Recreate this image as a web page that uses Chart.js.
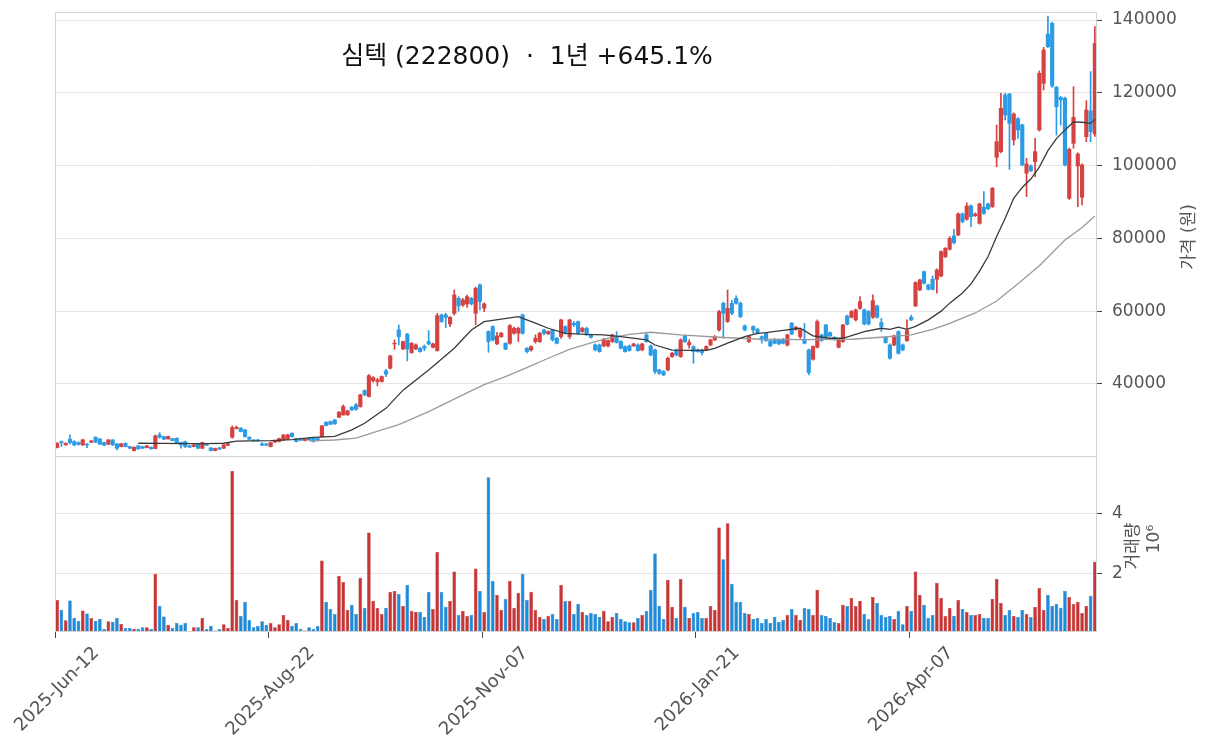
<!DOCTYPE html>
<html>
<head>
<meta charset="utf-8">
<script src="https://cdn.jsdelivr.net/npm/chart.js@4.4.1/dist/chart.umd.min.js"></script>
<style>
  html, body { margin: 0; padding: 0; background: #fff; }
  #wrap { width: 1212px; height: 750px; }
</style>
</head>
<body>
<div id="wrap"><canvas id="stockChart"></canvas></div>
<script>
const titleText = '심텍 (222800)  ·  1년 +645.1%';

const tickIdx = [0, 50, 100, 150, 200];
const tickLabels = ['2025-Jun-12', '2025-Aug-22', '2025-Nov-07', '2026-Jan-21', '2026-Apr-07'];
const priceTicks = [40000, 60000, 80000, 100000, 120000, 140000];
const volTicks = [2, 4];

const open = [
  22520, 24170, 23250, 24810, 24170, 23890, 23250, 23440, 23990, 25360,
  24900, 23890, 23440, 24630, 23530, 22790, 23710, 22790, 21700, 22980,
  22790, 22520, 22610, 22250, 26000, 25540, 24900, 24990, 25080, 23890,
  24170, 22980, 22790, 23440, 22340, 23530, 22430, 21700, 22430, 22340,
  23160, 25360, 27740, 27830, 27370, 25360, 24630, 24630, 23530, 23530,
  22790, 23990, 24170, 24630, 24900, 26460, 24990, 24990, 24440, 25080,
  25080, 25080, 25540, 29480, 29660, 30120, 30850, 31490, 31490, 33600,
  34240, 33780, 38180, 36530, 40920, 40650, 40650, 43580, 44310, 50990,
  54840, 49620, 53700, 48620, 49620, 49810, 50310, 51640, 50080, 49170,
  58960, 58960, 56490, 59420, 63540, 61710, 61990, 63540, 59420, 67200,
  60790, 54380, 55760, 51000, 53010, 51180, 51180, 53930, 53930, 58960,
  49810, 49350, 51640, 51640, 54840, 53750, 54840, 52550, 53010, 55760,
  53010, 56670, 57130, 54380, 55300, 53470, 50720, 50720, 50450, 50450,
  51640, 53010, 51640, 50270, 50450, 50450, 50720, 49350, 53470, 50450,
  49350, 43860, 43400, 43850, 47520, 49350, 47520, 53190, 50720, 50270,
  49350, 49350, 49350, 50720, 52100, 54840, 62170, 57130, 62170, 63540,
  62170, 55940, 51640, 55760, 55030, 53010, 53930, 51820, 52280, 52100,
  52280, 50720, 56670, 55030, 53010, 52280, 49350, 46780, 50080, 53470,
  56220, 54110, 52830, 50080, 51640, 58690, 58320, 57590, 60790, 60340,
  59880, 58320, 61440, 56860, 52830, 50720, 50720, 54380, 50720, 51910,
  58320, 61440, 65830, 70870, 67200, 68760, 68760, 69680, 74990, 77000,
  80660, 80940, 86710, 85240, 88900, 86250, 84140, 88540, 89450, 88720,
  102270, 103830, 119400, 119670, 107040, 112900, 111160, 97880, 99890, 101080,
  109780, 122600, 136150, 139080, 121500, 118760, 118480, 91010, 106120, 99890,
  91280, 107950, 115000, 108680
];

const high = [
  23900, 24350, 23800, 26000, 24400, 24100, 24800, 23710, 24500, 25500,
  25000, 24000, 24700, 24700, 23600, 23700, 23800, 22900, 22700, 23100,
  22900, 23100, 22700, 26000, 26640, 25700, 25700, 25100, 25200, 24000,
  24300, 23100, 23350, 23500, 24000, 23600, 22500, 22350, 22600, 23350,
  23650, 28470, 28400, 28000, 27500, 25500, 24700, 24750, 23900, 23600,
  24000, 24550, 25100, 26100, 26200, 26600, 25100, 25100, 24950, 25200,
  25200, 25200, 28600, 29600, 29800, 30250, 32400, 34240, 32800, 33800,
  34700, 37200, 38400, 42600, 42000, 41550, 42200, 44040, 47900, 52100,
  56220, 51800, 53900, 51400, 51000, 50000, 50720, 54660, 51200, 59420,
  59200, 59420, 58500, 65830, 64000, 63500, 64400, 63800, 66600, 67500,
  62300, 54600, 56000, 54200, 54200, 51300, 56300, 55600, 55600, 59200,
  50000, 50500, 53500, 54200, 55000, 54600, 55000, 52800, 57800, 56000,
  57800, 57200, 57300, 55600, 55600, 53700, 51000, 51000, 52500, 52100,
  53700, 54400, 51900, 50500, 50700, 51200, 51000, 51200, 53900, 50700,
  49600, 44000, 43700, 47400, 48700, 49600, 52400, 53400, 52100, 50500,
  49600, 49600, 50500, 52300, 53300, 60200, 62500, 65830, 63000, 64180,
  62500, 56200, 53300, 56000, 55300, 53200, 54100, 52000, 52500, 52300,
  52500, 53700, 56900, 55800, 55000, 56670, 49600, 50500, 57590, 53700,
  56400, 54300, 53000, 52300, 56400, 58900, 60200, 60600, 64000, 60600,
  60200, 64460, 61700, 58000, 53000, 51000, 53400, 54600, 51000, 57590,
  58900, 68100, 68800, 71000, 67400, 69680, 71600, 76600, 77500, 80500,
  82490, 87000, 87000, 89800, 89200, 87000, 89700, 92840, 89700, 94000,
  111160, 119850, 119850, 119850, 114500, 113200, 111400, 102000, 100200, 107490,
  126000, 132500, 141100, 139400, 121800, 119000, 118800, 104800, 121690, 103500,
  100500, 117840, 125810, 138170
];

const low = [
  22400, 22790, 23150, 23530, 23000, 23200, 23100, 22520, 23900, 23900,
  23300, 23100, 23300, 23100, 21880, 22700, 22700, 22200, 21600, 22050,
  22250, 22400, 22050, 22150, 25080, 24700, 24800, 24350, 23600, 22340,
  22500, 22500, 22700, 22200, 22200, 23050, 21600, 21600, 21950, 22250,
  23050, 25080, 27600, 26800, 25400, 24700, 24250, 24250, 23050, 23050,
  22700, 23900, 24050, 24500, 24800, 25400, 24050, 24400, 24350, 24500,
  24050, 24350, 25400, 28450, 28800, 28900, 30700, 31400, 31400, 32700,
  32700, 33600, 36800, 36400, 40500, 39460, 40500, 42020, 44100, 49530,
  50720, 49400, 46330, 48400, 49400, 48700, 49170, 50720, 49900, 49000,
  56900, 55480, 55760, 58900, 60000, 61300, 61000, 61700, 56220, 60340,
  59880, 48700, 51800, 50800, 52800, 49400, 50900, 53700, 51640, 53700,
  48500, 49000, 51200, 51400, 53500, 53600, 51800, 51000, 52500, 53700,
  52400, 55800, 53700, 54200, 53300, 52600, 49100, 48700, 50200, 50200,
  51400, 51200, 49600, 48700, 49000, 50300, 49000, 49100, 51400, 47700,
  42800, 42600, 42300, 43600, 47300, 47700, 47300, 51400, 49800, 45690,
  48700, 47970, 49100, 50500, 51900, 54500, 52550, 56900, 59000, 61900,
  58200, 54600, 51400, 53900, 53700, 51200, 51700, 50200, 51000, 50800,
  51000, 50400, 53500, 54800, 52500, 51000, 42480, 46500, 49900, 51700,
  52300, 53000, 52000, 49900, 51400, 56200, 58100, 57300, 60500, 56200,
  56200, 58000, 58100, 54400, 51200, 46800, 50500, 48200, 49100, 51700,
  57400, 61200, 65600, 67400, 65800, 65800, 64920, 69400, 74700, 76800,
  78500, 80700, 84300, 85000, 83230, 86000, 83900, 86600, 87900, 88500,
  99710, 103500, 112530, 98980, 105660, 107490, 99900, 91470, 98300, 96960,
  109500, 120770, 132400, 121500, 108410, 111160, 99900, 90700, 104750, 88720,
  89180, 106580, 106580, 108000
];

const close = [
  23710, 23890, 23710, 23890, 23250, 23340, 24630, 23250, 24350, 23990,
  23440, 23160, 24630, 23250, 22340, 23530, 22790, 22340, 22610, 22150,
  22340, 22980, 22150, 25720, 25360, 24810, 25540, 24440, 23710, 23250,
  22790, 22610, 23250, 22340, 23890, 23160, 21700, 22250, 22060, 23250,
  23530, 28010, 28100, 26920, 25540, 24810, 24350, 24350, 23160, 23160,
  23890, 24440, 24990, 26000, 26000, 25540, 24170, 24530, 24810, 24630,
  24170, 24440, 28470, 28560, 28930, 29020, 32230, 33780, 32590, 32870,
  33050, 36990, 36990, 42300, 41750, 41100, 42020, 42660, 47700, 51180,
  53010, 51640, 49600, 51180, 50720, 48890, 49810, 51000, 51000, 58780,
  57130, 58320, 58320, 64460, 61440, 63080, 64000, 61990, 66290, 62630,
  61990, 51640, 52100, 53190, 53930, 49530, 56040, 55300, 55300, 53930,
  48890, 50270, 52550, 53930, 53930, 54390, 52100, 51180, 57590, 53930,
  57590, 56210, 53930, 55300, 53470, 52830, 49350, 48890, 52280, 51910,
  53470, 51370, 49810, 48890, 49170, 51000, 49170, 51000, 51640, 47970,
  43400, 42940, 42480, 47060, 48430, 47970, 52100, 51640, 51370, 48890,
  48890, 48620, 50270, 52100, 53010, 59880, 59420, 60790, 59420, 62170,
  58500, 54840, 53010, 54840, 53930, 52100, 51910, 50450, 51180, 51000,
  51180, 53470, 53740, 55580, 54840, 51180, 43120, 50260, 57130, 51910,
  52550, 53190, 52280, 52100, 56220, 56400, 59880, 60340, 62630, 56490,
  56490, 62900, 58320, 55760, 51360, 47060, 53190, 48430, 49350, 54660,
  57590, 67840, 68580, 67660, 66010, 66010, 71330, 76360, 77280, 80000,
  78800, 86710, 84600, 88900, 85970, 86710, 89450, 86890, 88170, 93760,
  106580, 115730, 113900, 111610, 114180, 109780, 100170, 100440, 98610, 103830,
  125350, 131760, 132670, 121870, 116190, 118030, 100170, 104470, 113260, 103190,
  100170, 115280, 109320, 133590
];

// volume, millions of shares
const volumeM = [
  1.14, 0.81, 0.46, 1.11, 0.53, 0.44, 0.78, 0.68, 0.53, 0.44,
  0.5, 0.17, 0.43, 0.41, 0.54, 0.34, 0.2, 0.2, 0.17, 0.17,
  0.23, 0.23, 0.17, 2.0, 0.94, 0.58, 0.31, 0.2, 0.37, 0.31,
  0.37, 0.09, 0.23, 0.23, 0.53, 0.17, 0.28, 0.12, 0.17, 0.33,
  0.2, 5.4, 1.13, 0.61, 1.07, 0.47, 0.23, 0.28, 0.43, 0.31,
  0.37, 0.23, 0.33, 0.63, 0.47, 0.28, 0.37, 0.17, 0.12, 0.23,
  0.17, 0.28, 2.44, 1.07, 0.83, 0.67, 1.93, 1.73, 0.8, 0.97,
  0.67, 1.87, 0.87, 3.37, 1.1, 0.87, 0.67, 0.87, 1.4, 1.43,
  1.33, 0.93, 1.63, 0.77, 0.73, 0.73, 0.57, 1.4, 0.83, 2.73,
  1.4, 0.91, 1.1, 2.07, 0.63, 0.77, 0.6, 0.63, 2.17, 1.43,
  0.73, 5.2, 1.77, 1.3, 0.8, 1.17, 1.77, 0.87, 1.37, 2.0,
  1.13, 1.4, 0.8, 0.57, 0.5, 0.6, 0.67, 0.5, 1.63, 1.1,
  1.1, 0.67, 1.0, 0.73, 0.63, 0.7, 0.67, 0.57, 0.77, 0.43,
  0.57, 0.7, 0.5, 0.43, 0.39, 0.39, 0.53, 0.63, 0.77, 1.47,
  2.67, 0.94, 0.5, 1.8, 0.91, 0.53, 1.83, 0.91, 0.53, 0.7,
  0.73, 0.53, 0.53, 0.93, 0.8, 3.53, 2.48, 3.67, 1.67, 1.07,
  1.07, 0.7, 0.67, 0.5, 0.53, 0.37, 0.5, 0.37, 0.57, 0.4,
  0.47, 0.63, 0.83, 0.63, 0.47, 0.87, 0.83, 0.63, 1.47, 0.63,
  0.6, 0.53, 0.4, 0.37, 0.97, 0.93, 1.2, 0.93, 1.1, 0.67,
  0.5, 1.23, 1.03, 0.63, 0.57, 0.6, 0.5, 0.77, 0.33, 0.93,
  0.77, 2.07, 1.3, 0.97, 0.53, 0.63, 1.7, 1.2, 0.6, 0.87,
  0.6, 1.13, 0.83, 0.73, 0.63, 0.63, 0.67, 0.53, 0.53, 1.17,
  1.83, 1.03, 0.63, 0.8, 0.6, 0.57, 0.8, 0.67, 0.57, 0.9,
  1.53, 0.8, 1.3, 0.93, 1.0, 0.87, 1.43, 1.23, 1.0, 1.07,
  0.7, 0.93, 1.27, 2.4
];

// moving averages (bar index -> price)
const ma20Idx = [19, 25, 30, 35, 39, 42, 45, 50, 55, 60, 65, 69, 72, 77, 81, 87, 93, 97, 100, 104,
  108, 112, 115, 119, 124, 128, 132, 138, 140, 144, 148, 152, 154, 157, 161, 164, 166, 170, 174, 177,
  181, 184, 189, 193, 195, 197, 199, 201, 204, 207, 209, 212, 214, 216, 218, 220, 222, 224, 226, 228,
  230, 232, 234, 236, 238, 240, 242, 243];
const ma20Val = [23710, 23650, 23620, 23620, 23700, 24300, 24380, 24450, 24700, 25300, 25600, 27400, 29200, 33300, 38300, 43800, 49800, 54800, 57100, 57800,
  58500, 56700, 55300, 53900, 53600, 53500, 53000, 52100, 50700, 49300, 49200, 49200, 49800, 51200, 53000, 53900, 54100, 54700, 55300, 53200,
  52550, 52550, 54400, 55300, 55000, 55600, 55000, 55800, 57600, 60000, 62200, 65000, 67500, 71000, 75000, 80500, 85500, 91000, 94000, 96300,
  99600, 104100, 107400, 109800, 112000, 111900, 111600, 112700];

const ma60Idx = [59, 65, 70, 76, 80, 87, 95, 100, 105, 110, 115, 120, 125, 129, 134, 139, 146, 155, 165, 175,
  186, 193, 200, 205, 209, 215, 220, 225, 230, 236, 240, 243];
const ma60Val = [24350, 24600, 25100, 27370, 28800, 32400, 37000, 39800, 42000, 44500, 47060, 49500, 51300, 52600, 53600, 54200, 53470, 52830, 52280, 52200,
  52280, 52830, 53470, 55000, 56670, 59500, 62800, 67500, 72500, 79560, 83000, 86150];

const RED = '#d64141';
const BLUE = '#2b9be6';
const VOL_RED = '#c83434';
const VOL_BLUE = '#1c8bdb';

const n = open.length;
const labels = open.map((_, i) => String(i));
const isUp = close.map((c, i) => c >= open[i]);

function sparse(idx, vals) {
  const out = new Array(n).fill(null);
  idx.forEach((k, j) => { out[k] = vals[j]; });
  return out;
}

// keep the stacked right axes from reserving room for their end labels
function fixWidth(s) {
  s.width = 115;
  s.paddingTop = 0;
  s.paddingBottom = 0;
}

const decor = {
  id: 'decor',
  afterDraw(chart) {
    const { ctx, chartArea: a, scales } = chart;
    const yp = scales.y, yv = scales.yv, xs = scales.x;
    ctx.save();
    // panel frames
    ctx.strokeStyle = '#d4d4d4';
    ctx.lineWidth = 1;
    ctx.strokeRect(a.left + 0.5, yp.top + 0.5, a.right - a.left - 1, yp.bottom - yp.top);
    ctx.strokeRect(a.left + 0.5, yv.top + 0.5, a.right - a.left - 1, yv.bottom - yv.top - 1);

    // title inside price panel
    ctx.fillStyle = '#111';
    ctx.font = '25px "DejaVu Sans", "Noto Sans CJK KR"';
    ctx.textAlign = 'center';
    ctx.textBaseline = 'middle';
    ctx.fillText(titleText, 527, 57);

    // axis titles, reading upward
    ctx.fillStyle = '#555';
    ctx.font = '17px "DejaVu Sans", "Noto Sans CJK KR"';
    const vtext = (t, x, y) => {
      ctx.save();
      ctx.translate(x, y);
      ctx.rotate(-Math.PI / 2);
      ctx.fillText(t, 0, 0);
      ctx.restore();
    };
    vtext('가격 (원)', 1190, (yp.top + yp.bottom) / 2 + 3);
    vtext('거래량', 1134, 546);
    vtext('10⁶', 1155, 539);

    // date labels, rotated 45 deg and centred on their tick
    ctx.font = '18px "DejaVu Sans"';
    ctx.fillStyle = '#555';
    tickIdx.forEach((k, j) => {
      const x = xs.getPixelForValue(k);
      const w = ctx.measureText(tickLabels[j]).width;
      const cy = a.bottom + 12 + 0.3536 * (w + 18);
      ctx.save();
      ctx.translate(x, cy);
      ctx.rotate(-Math.PI / 4);
      ctx.fillText(tickLabels[j], 0, 0);
      ctx.restore();
    });
    ctx.restore();
  }
};

new Chart(document.getElementById('stockChart').getContext('2d'), {
  type: 'bar',
  data: {
    labels,
    datasets: [
      {
        type: 'line',
        label: 'MA20',
        data: sparse(ma20Idx, ma20Val),
        yAxisID: 'y',
        borderColor: '#3a3a3a',
        borderWidth: 1.3,
        pointRadius: 0,
        spanGaps: true,
        tension: 0,
        order: 1
      },
      {
        type: 'line',
        label: 'MA60',
        data: sparse(ma60Idx, ma60Val),
        yAxisID: 'y',
        borderColor: '#9a9a9a',
        borderWidth: 1.3,
        pointRadius: 0,
        spanGaps: true,
        tension: 0,
        order: 2
      },
      {
        label: 'body',
        data: open.map((o, i) => [o, close[i]]),
        yAxisID: 'y',
        backgroundColor: isUp.map(u => u ? RED : BLUE),
        barThickness: 3.5,
        grouped: false,
        order: 3
      },
      {
        label: 'wick',
        data: low.map((l, i) => [l, high[i]]),
        yAxisID: 'y',
        backgroundColor: isUp.map(u => u ? RED : BLUE),
        barThickness: 1,
        grouped: false,
        order: 4
      },
      {
        label: 'volume',
        data: volumeM,
        yAxisID: 'yv',
        backgroundColor: isUp.map(u => u ? VOL_RED : VOL_BLUE),
        borderColor: isUp.map(u => u ? '#b02a2a' : '#1670b5'),
        borderWidth: { left: 0.5, right: 0.5, top: 0.5, bottom: 0 },
        categoryPercentage: 1,
        barPercentage: 0.86,
        grouped: false,
        order: 5
      }
    ]
  },
  options: {
    responsive: true,
    maintainAspectRatio: false,
    animation: false,
    layout: { padding: { left: 55, top: 12, right: 0, bottom: 0 } },
    plugins: {
      legend: { display: false },
      tooltip: { enabled: false }
    },
    scales: {
      x: {
        type: 'category',
        position: 'bottom',
        offset: true,
        grid: {
          drawOnChartArea: false,
          drawTicks: true,
          tickLength: 6,
          color: ctx => tickIdx.includes(ctx.index) ? '#444' : 'rgba(0,0,0,0)'
        },
        border: { display: false },
        ticks: { display: false, autoSkip: false },
        afterFit: s => { s.height = 118; s.paddingLeft = 0; s.paddingRight = 0; }
      },
      y: {
        position: 'right',
        stack: 'panels',
        stackWeight: 444,
        min: 20200,
        max: 142200,
        border: { display: false },
        grid: { color: '#e6e6e6', tickColor: '#444', tickLength: 5 },
        ticks: {
          padding: 10,
          color: '#555',
          font: { family: 'DejaVu Sans', size: 17 },
          callback: v => String(v)
        },
        afterBuildTicks: s => { s.ticks = priceTicks.map(v => ({ value: v })); },
        afterFit: fixWidth
      },
      yv: {
        position: 'right',
        stack: 'panels',
        stackWeight: 176,
        min: 0.07,
        max: 5.9,
        border: { display: false },
        grid: { color: '#e6e6e6', tickColor: '#444', tickLength: 5 },
        ticks: {
          padding: 10,
          color: '#555',
          font: { family: 'DejaVu Sans', size: 17 },
          callback: v => String(v)
        },
        afterBuildTicks: s => { s.ticks = volTicks.map(v => ({ value: v })); },
        afterFit: fixWidth
      }
    }
  },
  plugins: [decor]
});
</script>
</body>
</html>
